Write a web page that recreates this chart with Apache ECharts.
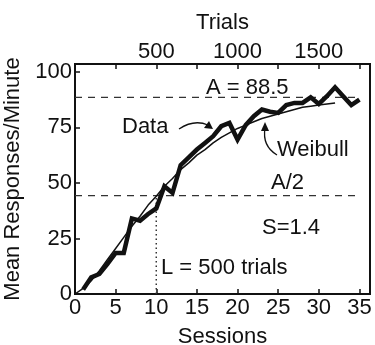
<!DOCTYPE html>
<html>
<head>
<meta charset="utf-8">
<script src="https://cdn.jsdelivr.net/npm/echarts@6/dist/echarts.min.js"></script>
<style>
  html, body { margin: 0; padding: 0; background: #fff; }
  #chart { width: 375px; height: 345px; }
</style>
</head>
<body>
<div id="chart"></div>
<script>
// data
var sessions = [1, 2, 3, 4, 5, 6, 7, 8, 9, 10, 11, 12, 13, 14, 15, 16, 17, 18,
    19, 20, 21, 22, 23, 24, 25, 26, 27, 28, 29, 30, 31, 32, 33, 34, 35];
var responses = [2, 7.5, 9, 13.5, 18.5, 18.5, 34, 33, 36, 38.5, 48.5, 45.5, 58, 61.5,
    65, 68, 71, 75.5, 77, 69.5, 76, 80, 83, 82, 81.5, 85, 86, 86, 88.5, 85.5,
    89, 93, 89, 85, 87.5];

var fitSessions = [0, 1, 2, 3, 4, 5, 6, 7, 8, 9, 10, 11, 12, 13, 14, 15, 16, 17,
    18, 19, 20, 21, 22, 23, 24, 25, 26, 27, 28, 29, 30, 31, 32];
var weibull = [0, 2.5, 6, 10.5, 15.5, 20.5, 25.5, 30.5, 35, 40, 44, 48.5, 52, 56,
    59, 62.5, 65, 68, 70.5, 72.5, 74.5, 76, 77.5, 79, 80, 81, 82, 83, 84, 84.5,
    85, 85.5, 86];

var asymptote = 88.5;       // A
var halfPoint = 44.25;      // A/2
var lSession = 10;          // L = 500 trials
var refSpan = [0, 35];

var xTicks = [0, 5, 10, 15, 20, 25, 30, 35];
var yTicks = [0, 25, 50, 75, 100];
var trialLabels = [500, 1000, 1500];
var trialsPerSession = 50;

var xMax = 36.3;
var yMax = 103.5;

var font = 'Liberation Sans, Arial, sans-serif';
var fs = 22;
var ink = '#111';

function pairs(xs, ys) {
    return xs.map(function (x, i) { return [x, ys[i]]; });
}

var myChart = echarts.init(document.getElementById('chart'));

var option = {
    animation: false,
    textStyle: { fontFamily: font, color: ink },
    grid: {
        left: 75, right: 5, top: 64, bottom: 51,
        containLabel: false, outerBoundsMode: 'none',
        show: true, borderColor: ink, borderWidth: 2
    },
    xAxis: [
        {
            type: 'value', position: 'bottom', min: 0, max: xMax, interval: 5,
            name: 'Sessions', nameLocation: 'middle', nameGap: 32,
            nameTextStyle: { fontSize: fs, color: ink, fontFamily: font },
            axisLine: { show: true, lineStyle: { color: ink, width: 2 } },
            axisTick: { show: true, inside: true, length: 5, lineStyle: { color: ink, width: 1.5 } },
            splitLine: { show: false },
            axisLabel: {
                fontSize: fs, color: ink, margin: 3, fontFamily: font,
                showMaxLabel: false,
                formatter: function (v) { return xTicks.indexOf(v) >= 0 ? String(v) : ''; }
            }
        },
        {
            type: 'value', position: 'top', min: 0, max: xMax * trialsPerSession, interval: 250,
            name: 'Trials', nameLocation: 'middle', nameGap: 30,
            nameTextStyle: { fontSize: fs, color: ink, fontFamily: font },
            axisLine: { show: true, lineStyle: { color: ink, width: 2 } },
            axisTick: { show: true, inside: true, length: 5, lineStyle: { color: ink, width: 1.5 } },
            splitLine: { show: false },
            axisLabel: {
                fontSize: fs, color: ink, margin: 1, fontFamily: font,
                formatter: function (v) { return trialLabels.indexOf(v) >= 0 ? String(v) : ''; }
            }
        }
    ],
    yAxis: [
        {
            type: 'value', min: 0, max: yMax, interval: 25,
            name: 'Mean Responses/Minute', nameLocation: 'middle', nameGap: 50,
            nameTextStyle: { fontSize: fs, color: ink, fontFamily: font },
            axisLine: { show: true, lineStyle: { color: ink, width: 2 } },
            axisTick: { show: true, inside: true, length: 5, lineStyle: { color: ink, width: 1.5 } },
            splitLine: { show: false },
            axisLabel: {
                fontSize: fs, color: ink, margin: 3, fontFamily: font,
                formatter: function (v) { return yTicks.indexOf(v) >= 0 ? String(v) : ''; }
            }
        }
    ],
    series: [
        {
            name: 'A', type: 'line', xAxisIndex: 0, symbol: 'none', silent: true,
            data: pairs(refSpan, [asymptote, asymptote]),
            lineStyle: { color: '#333', width: 1.2, type: [7, 6] }
        },
        {
            name: 'A/2', type: 'line', xAxisIndex: 0, symbol: 'none', silent: true,
            data: pairs(refSpan, [halfPoint, halfPoint]),
            lineStyle: { color: '#333', width: 1.2, type: [7, 6] }
        },
        {
            name: 'L', type: 'line', xAxisIndex: 0, symbol: 'none', silent: true,
            data: pairs([lSession, lSession], [0, halfPoint]),
            lineStyle: { color: '#333', width: 1.5, type: [1.5, 3] }
        },
        {
            name: 'Data', type: 'line', xAxisIndex: 0, symbol: 'none', z: 3,
            data: pairs(sessions, responses),
            lineStyle: { color: ink, width: 4.5, join: 'miter' }
        },
        {
            name: 'Weibull', type: 'line', xAxisIndex: 0, symbol: 'none', z: 4,
            data: pairs(fitSessions, weibull),
            lineStyle: { color: ink, width: 1.5 }
        }
    ],
    graphic: [
        { type: 'text', left: 206, top: 77, style: { text: 'A = 88.5', font: fs + 'px ' + font, fill: ink } },
        { type: 'text', left: 122, top: 116, style: { text: 'Data', font: fs + 'px ' + font, fill: ink } },
        { type: 'text', left: 277, top: 139, style: { text: 'Weibull', font: fs + 'px ' + font, fill: ink } },
        { type: 'text', left: 271, top: 172, style: { text: 'A/2', font: fs + 'px ' + font, fill: ink } },
        { type: 'text', left: 262, top: 217, style: { text: 'S=1.4', font: fs + 'px ' + font, fill: ink } },
        { type: 'text', left: 161, top: 257, style: { text: 'L = 500 trials', font: fs + 'px ' + font, fill: ink } },
        {
            type: 'bezierCurve',
            shape: { x1: 179, y1: 129, cpx1: 194, cpy1: 119, x2: 208, y2: 125 },
            style: { stroke: ink, lineWidth: 1.3, fill: null }
        },
        {
            type: 'polygon',
            shape: { points: [[213, 129], [204, 128], [209, 121]] },
            style: { fill: ink }
        },
        {
            type: 'bezierCurve',
            shape: { x1: 277, y1: 155, cpx1: 262, cpy1: 146, x2: 265, y2: 128 },
            style: { stroke: ink, lineWidth: 1.3, fill: null }
        },
        {
            type: 'polygon',
            shape: { points: [[265, 122], [261, 131], [269, 131]] },
            style: { fill: ink }
        }
    ]
};

myChart.setOption(option);

window.addEventListener('resize', function () {
    myChart.resize();
});
</script>
</body>
</html>
